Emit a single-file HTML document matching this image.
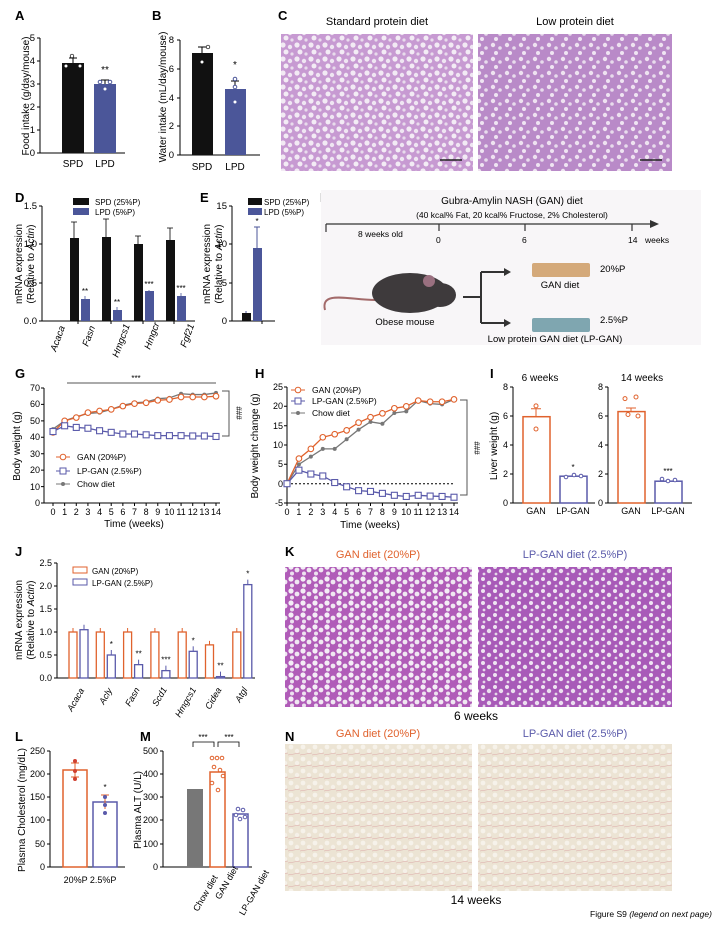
<!DOCTYPE html>
<html><head><meta charset="utf-8"><style>
body{margin:0;background:#fff}
svg{display:block;font-family:"Liberation Sans",Arial,sans-serif}
</style></head><body>
<svg width="712" height="926" viewBox="0 0 712 926" xmlns="http://www.w3.org/2000/svg">
<defs>
<pattern id="he" width="14" height="14" patternUnits="userSpaceOnUse">
<rect width="14" height="14" fill="#c79ad2"/>
<circle cx="3" cy="3" r="2.6" fill="#f2eaf4"/><circle cx="10" cy="5" r="2.2" fill="#efe6f2"/>
<circle cx="6" cy="10" r="2.5" fill="#f3ecf5"/><circle cx="12" cy="12" r="1.6" fill="#e8dcec"/>
</pattern>
<pattern id="he2" width="14" height="14" patternUnits="userSpaceOnUse">
<rect width="14" height="14" fill="#b98ac8"/>
<circle cx="3" cy="3" r="2.2" fill="#eee2f0"/><circle cx="10" cy="6" r="1.8" fill="#e8dcec"/>
<circle cx="6" cy="11" r="2" fill="#efe5f2"/>
</pattern>
<pattern id="hk" width="12" height="12" patternUnits="userSpaceOnUse">
<rect width="12" height="12" fill="#b05cb8"/>
<circle cx="3" cy="3" r="2.6" fill="#f4eef6"/><circle cx="9" cy="6" r="2.4" fill="#f0e8f2"/>
<circle cx="4" cy="9.5" r="2" fill="#ede2f0"/>
</pattern>
<pattern id="hk2" width="12" height="12" patternUnits="userSpaceOnUse">
<rect width="12" height="12" fill="#a85ab8"/>
<circle cx="3" cy="3" r="2" fill="#efe5f2"/><circle cx="9" cy="7" r="2.2" fill="#ebe0ef"/>
<circle cx="4" cy="10" r="1.4" fill="#e6d8ea"/>
</pattern>
<pattern id="hn" width="12" height="12" patternUnits="userSpaceOnUse">
<rect width="12" height="12" fill="#ece4d4"/>
<circle cx="3" cy="3" r="2.4" fill="#f6f2ea"/><circle cx="9" cy="7" r="2.2" fill="#f5f0e8"/>
<path d="M0 11 L12 9" stroke="#dca8a8" stroke-width="0.5"/>
</pattern>
</defs>
<g font-size="10" fill="#000">
<g font-weight="bold" font-size="13">
<text x="15" y="20">A</text><text x="152" y="20">B</text><text x="278" y="20">C</text>
<text x="15" y="202">D</text><text x="200" y="202">E</text><text x="320" y="202">F</text>
<text x="15" y="378">G</text><text x="255" y="378">H</text><text x="490" y="378">I</text>
<text x="15" y="556">J</text><text x="285" y="556">K</text>
<text x="15" y="741">L</text><text x="140" y="741">M</text><text x="285" y="741">N</text>
</g>

<!-- A -->
<g stroke="#000" stroke-width="1" fill="none">
<path d="M40 38V153H125"/>
<path d="M37 38H40M37 61H40M37 84H40M37 107H40M37 130H40M37 153H40"/>
</g>
<g font-size="9.5" text-anchor="end"><text x="35" y="41">5</text><text x="35" y="64">4</text><text x="35" y="87">3</text><text x="35" y="110">2</text><text x="35" y="133">1</text><text x="35" y="156">0</text></g>
<rect x="62" y="63" width="22" height="90" fill="#111"/>
<rect x="94" y="84" width="22" height="69" fill="#4b5699"/>
<path d="M73 63V58M69 58H77M105 84V80M101 80H109" stroke="#000"/>
<circle cx="72" cy="56" r="1.8" fill="#fff" stroke="#000" stroke-width=".7"/><circle cx="66" cy="66" r="1.5" fill="#fff"/><circle cx="80" cy="66" r="1.5" fill="#fff"/>
<circle cx="100" cy="82" r="1.8" fill="#fff" stroke="#4b5699"/><circle cx="110" cy="82" r="1.8" fill="#fff" stroke="#4b5699"/><circle cx="105" cy="89" r="1.5" fill="#fff"/>
<text x="105" y="73" text-anchor="middle" font-size="10">**</text>
<text x="73" y="167" text-anchor="middle">SPD</text><text x="105" y="167" text-anchor="middle">LPD</text>
<text transform="translate(29,96) rotate(-90)" text-anchor="middle" font-size="10">Food intake (g/day/mouse)</text>

<!-- B -->
<g stroke="#000" fill="none"><path d="M180 40V155H260"/><path d="M177 40H180M177 69H180M177 98H180M177 126H180M177 155H180"/></g>
<g font-size="9.5" text-anchor="end"><text x="174" y="43">8</text><text x="174" y="72">6</text><text x="174" y="101">4</text><text x="174" y="129">2</text><text x="174" y="158">0</text></g>
<rect x="192" y="53" width="21" height="102" fill="#111"/>
<rect x="225" y="89" width="21" height="66" fill="#4b5699"/>
<path d="M202 53V47M198 47H206M235 89V81M231 81H239" stroke="#000"/>
<circle cx="202" cy="62" r="1.5" fill="#fff"/><circle cx="208" cy="47" r="1.8" fill="#fff" stroke="#000" stroke-width=".7"/>
<circle cx="235" cy="79" r="1.8" fill="#fff" stroke="#4b5699"/><circle cx="235" cy="87" r="1.8" fill="#fff" stroke="#4b5699"/><circle cx="235" cy="102" r="1.5" fill="#fff"/>
<text x="235" y="68" text-anchor="middle">*</text>
<text x="202" y="170" text-anchor="middle">SPD</text><text x="235" y="170" text-anchor="middle">LPD</text>
<text transform="translate(166,97) rotate(-90)" text-anchor="middle">Water intake (mL/day/mouse)</text>

<!-- C -->
<text x="377" y="25" text-anchor="middle" font-size="11">Standard protein diet</text>
<text x="575" y="25" text-anchor="middle" font-size="11">Low protein diet</text>
<rect x="281" y="34" width="192" height="137" fill="url(#he)"/>
<rect x="478" y="34" width="194" height="137" fill="url(#he2)"/>
<path d="M440 160H462M640 160H662" stroke="#222" stroke-width="1.5"/>

<!-- D -->
<g stroke="#000" fill="none"><path d="M42 206V321H195"/><path d="M39 206H42M39 244H42M39 283H42M39 321H42"/>
<path d="M78 321v3M111 321v3M143 321v3M174 321v3"/></g>
<g font-size="9.5" text-anchor="end"><text x="37" y="209">1.5</text><text x="37" y="247">1.0</text><text x="37" y="286">0.5</text><text x="37" y="324">0.0</text></g>
<rect x="70" y="238" width="9" height="83" fill="#111"/><rect x="81" y="299" width="9" height="22" fill="#4b5699"/>
<rect x="102" y="237" width="9" height="84" fill="#111"/><rect x="113" y="310" width="9" height="11" fill="#4b5699"/>
<rect x="134" y="244" width="9" height="77" fill="#111"/><rect x="145" y="291" width="9" height="30" fill="#4b5699"/>
<rect x="166" y="240" width="9" height="81" fill="#111"/><rect x="177" y="296" width="9" height="25" fill="#4b5699"/>
<g stroke="#000" stroke-width=".8"><path d="M74 238V222M71 222H77M106 237V219M103 219H109M138 244V236M135 236H141M170 240V228M167 228H173"/></g>
<g stroke="#4b5699" stroke-width=".8"><path d="M85 299V296M117 310V307M149 291V290M181 296V293"/></g>
<g font-size="8" text-anchor="middle"><text x="85" y="294">**</text><text x="117" y="305">**</text><text x="149" y="287">***</text><text x="181" y="291">***</text></g>
<rect x="73" y="198" width="16" height="7" fill="#111"/><text x="95" y="205" font-size="8">SPD (25%P)</text>
<rect x="73" y="208" width="16" height="7" fill="#4b5699"/><text x="95" y="215" font-size="8">LPD (5%P)</text>
<text transform="translate(22,264) rotate(-90)" text-anchor="middle">mRNA expression</text>
<text transform="translate(34,264) rotate(-90)" text-anchor="middle">(Relative to <tspan font-style="italic">Actin</tspan>)</text>
<g font-style="italic" font-size="9.5">
<text transform="translate(56,352) rotate(-70)">Acaca</text><text transform="translate(88,347) rotate(-70)">Fasn</text>
<text transform="translate(118,358) rotate(-70)">Hmgcs1</text><text transform="translate(150,350) rotate(-70)">Hmgcr</text>
<text transform="translate(186,348) rotate(-70)">Fgf21</text></g>

<!-- E -->
<g stroke="#000" fill="none"><path d="M232 206V321H275"/><path d="M229 206H232M229 244H232M229 283H232M229 321H232M262 321v3"/></g>
<g font-size="9.5" text-anchor="end"><text x="227" y="209">15</text><text x="227" y="247">10</text><text x="227" y="286">5</text><text x="227" y="324">0</text></g>
<rect x="242" y="313" width="9" height="8" fill="#111"/><rect x="253" y="248" width="9" height="73" fill="#4b5699"/>
<path d="M246 313V311M257 248V227M254 227H260" stroke="#4b5699"/>
<text x="257" y="224" text-anchor="middle" font-size="8">*</text>
<rect x="248" y="198" width="14" height="7" fill="#111"/><text x="264" y="205" font-size="8">SPD (25%P)</text>
<rect x="248" y="208" width="14" height="7" fill="#4b5699"/><text x="264" y="215" font-size="8">LPD (5%P)</text>
<text transform="translate(210,264) rotate(-90)" text-anchor="middle">mRNA expression</text>
<text transform="translate(222,264) rotate(-90)" text-anchor="middle">(Relative to <tspan font-style="italic">Actin</tspan>)</text>

<!-- F -->
<rect x="321" y="190" width="380" height="155" fill="#f8f6f8"/>
<text x="512" y="204" text-anchor="middle" font-size="10">Gubra-Amylin NASH (GAN) diet</text>
<text x="512" y="218" text-anchor="middle" font-size="8.5">(40 kcal% Fat, 20 kcal% Fructose, 2% Cholesterol)</text>
<path d="M326 224H652M326 224v8M439 224v7M525 224v7M632 224v7" stroke="#333" stroke-width="1.2" fill="none"/>
<path d="M650 220L659 224L650 228Z" fill="#333"/>
<g font-size="8.5"><text x="358" y="237">8 weeks old</text><text x="436" y="243">0</text><text x="522" y="243">6</text><text x="628" y="243">14</text><text x="645" y="243">weeks</text></g>
<path d="M325 310 C320 290 350 300 375 300" stroke="#a36a6a" stroke-width="2" fill="none"/>
<ellipse cx="410" cy="293" rx="38" ry="20" fill="#3e3a3c"/>
<ellipse cx="440" cy="295" rx="16" ry="12" fill="#3e3a3c"/>
<circle cx="429" cy="281" r="6" fill="#9a7080"/>
<text x="405" y="325" text-anchor="middle" font-size="9.5">Obese mouse</text>
<path d="M463 297H481M481 272V323M481 272H505M481 323H505" stroke="#333" stroke-width="2" fill="none"/>
<path d="M504 268L511 272L504 276ZM504 319L511 323L504 327Z" fill="#333"/>
<rect x="532" y="263" width="58" height="14" rx="2" fill="#d4a97a"/>
<rect x="532" y="318" width="58" height="14" rx="2" fill="#7fa6b0"/>
<text x="600" y="272" font-size="9.5">20%P</text><text x="560" y="288" text-anchor="middle" font-size="9.5">GAN diet</text>
<text x="600" y="323" font-size="9.5">2.5%P</text><text x="555" y="342" text-anchor="middle" font-size="9.5">Low protein GAN diet (LP-GAN)</text>

<!-- G -->
<text x="136" y="381" text-anchor="middle" font-size="8">***</text>
<path d="M67 383H216" stroke="#555"/>
<g stroke="#000" fill="none"><path d="M44 388V503H220"/></g>
<g font-size="9" text-anchor="end">
<text x="40" y="391">70</text><text x="40" y="407">60</text><text x="40" y="424">50</text><text x="40" y="440">40</text><text x="40" y="457">30</text><text x="40" y="473">20</text><text x="40" y="490">10</text><text x="40" y="506">0</text></g>
<g stroke="#000"><path d="M41 388h3M41 404.4h3M41 420.9h3M41 437.3h3M41 453.7h3M41 470.1h3M41 486.6h3M41 503h3"/></g>
<g font-size="9" text-anchor="middle" id="gx"></g>
<text x="134" y="527" text-anchor="middle">Time (weeks)</text>
<text transform="translate(20,446) rotate(-90)" text-anchor="middle">Body weight (g)</text>
<path d="M222 391H229V436H222" stroke="#555" fill="none"/>
<text transform="translate(236,413) rotate(90)" text-anchor="middle" font-size="8">###</text>
<g id="gplot"></g>
<g font-size="8.5">
<path d="M56 457H70" stroke="#e0622d"/><circle cx="63" cy="457" r="2.8" fill="#fff" stroke="#e0622d"/><text x="77" y="460">GAN (20%P)</text>
<path d="M56 471H70" stroke="#5a5aaa"/><rect x="60" y="468" width="6" height="6" fill="#fff" stroke="#5a5aaa"/><text x="77" y="474">LP-GAN (2.5%P)</text>
<path d="M56 484H70" stroke="#777"/><circle cx="63" cy="484" r="2" fill="#777"/><text x="77" y="487">Chow diet</text></g>

<!-- H -->
<g stroke="#000" fill="none"><path d="M287 387V503H458"/></g>
<g font-size="9" text-anchor="end">
<text x="283" y="390">25</text><text x="283" y="409">20</text><text x="283" y="429">15</text><text x="283" y="448">10</text><text x="283" y="467">5</text><text x="283" y="487">0</text><text x="283" y="506">-5</text></g>
<g stroke="#000"><path d="M284 387h3M284 406.3h3M284 425.7h3M284 445h3M284 464.3h3M284 483.7h3M284 503h3"/></g>
<path d="M287 483.7H455" stroke="#000" stroke-dasharray="2,2"/>
<text x="370" y="528" text-anchor="middle">Time (weeks)</text>
<text transform="translate(258,446) rotate(-90)" text-anchor="middle">Body weight change (g)</text>
<path d="M460 400H467V495H460" stroke="#555" fill="none"/>
<text transform="translate(474,448) rotate(90)" text-anchor="middle" font-size="8">###</text>
<g id="hplot"></g>
<g font-size="8.5">
<path d="M291 390H305" stroke="#e0622d"/><circle cx="298" cy="390" r="2.8" fill="#fff" stroke="#e0622d"/><text x="312" y="393">GAN (20%P)</text>
<path d="M291 401H305" stroke="#5a5aaa"/><rect x="295" y="398" width="6" height="6" fill="#fff" stroke="#5a5aaa"/><text x="312" y="404">LP-GAN (2.5%P)</text>
<path d="M291 413H305" stroke="#777"/><circle cx="298" cy="413" r="2" fill="#777"/><text x="312" y="416">Chow diet</text></g>

<!-- I -->
<text x="540" y="381" text-anchor="middle">6 weeks</text><text x="642" y="381" text-anchor="middle">14 weeks</text>
<g stroke="#000" fill="none"><path d="M513 387V503H595M608 387V503H692"/>
<path d="M510 387h3M510 416h3M510 445h3M510 474h3M510 503h3M605 387h3M605 416h3M605 445h3M605 474h3M605 503h3"/></g>
<g font-size="9" text-anchor="end"><text x="508" y="390">8</text><text x="508" y="419">6</text><text x="508" y="448">4</text><text x="508" y="477">2</text><text x="508" y="506">0</text>
<text x="603" y="390">8</text><text x="603" y="419">6</text><text x="603" y="448">4</text><text x="603" y="477">2</text><text x="603" y="506">0</text></g>
<rect x="523" y="416.7" width="27" height="86.3" fill="#fff" stroke="#e0622d" stroke-width="1.5"/>
<rect x="560" y="476.2" width="27" height="26.8" fill="#fff" stroke="#5a5aaa" stroke-width="1.5"/>
<rect x="618" y="411.6" width="27" height="91.4" fill="#fff" stroke="#e0622d" stroke-width="1.5"/>
<rect x="655" y="481.2" width="27" height="21.8" fill="#fff" stroke="#5a5aaa" stroke-width="1.5"/>
<path d="M536 416.7V408.8M531 408.8H541M631 411.6V408M626 408H636" stroke="#e0622d"/>
<circle cx="536" cy="405.9" r="2" fill="#fff" stroke="#e0622d"/><circle cx="536" cy="429" r="2" fill="#fff" stroke="#e0622d"/>
<circle cx="625" cy="398.6" r="2" fill="#fff" stroke="#e0622d"/><circle cx="636" cy="397" r="2" fill="#fff" stroke="#e0622d"/><circle cx="628" cy="414.5" r="2" fill="#fff" stroke="#e0622d"/><circle cx="638" cy="416" r="2" fill="#fff" stroke="#e0622d"/>
<circle cx="566" cy="477" r="1.8" fill="#fff" stroke="#5a5aaa"/><circle cx="574" cy="475" r="1.8" fill="#fff" stroke="#5a5aaa"/><circle cx="581" cy="476" r="1.8" fill="#fff" stroke="#5a5aaa"/>
<circle cx="662" cy="479" r="1.8" fill="#fff" stroke="#5a5aaa"/><circle cx="668" cy="481" r="1.8" fill="#fff" stroke="#5a5aaa"/><circle cx="675" cy="480" r="1.8" fill="#fff" stroke="#5a5aaa"/>
<text x="573" y="470" text-anchor="middle" font-size="8">*</text><text x="668" y="474" text-anchor="middle" font-size="8">***</text>
<text x="536" y="514" text-anchor="middle" font-size="9">GAN</text><text x="573" y="514" text-anchor="middle" font-size="9">LP-GAN</text>
<text x="631" y="514" text-anchor="middle" font-size="9">GAN</text><text x="668" y="514" text-anchor="middle" font-size="9">LP-GAN</text>
<text transform="translate(497,446) rotate(-90)" text-anchor="middle">Liver weight (g)</text>

<!-- J -->
<g stroke="#000" fill="none"><path d="M57 563V678H255"/>
<path d="M54 563h3M54 586h3M54 609h3M54 632h3M54 655h3M54 678h3"/></g>
<g font-size="9" text-anchor="end"><text x="52" y="566">2.5</text><text x="52" y="589">2.0</text><text x="52" y="612">1.5</text><text x="52" y="635">1.0</text><text x="52" y="658">0.5</text><text x="52" y="681">0.0</text></g>
<g id="jplot"></g>
<rect x="73" y="567" width="14" height="6" fill="#fff" stroke="#e0622d"/><text x="92" y="574" font-size="8">GAN (20%P)</text>
<rect x="73" y="579" width="14" height="6" fill="#fff" stroke="#5a5aaa"/><text x="92" y="586" font-size="8">LP-GAN (2.5%P)</text>
<text transform="translate(22,620) rotate(-90)" text-anchor="middle">mRNA expression</text>
<text transform="translate(34,620) rotate(-90)" text-anchor="middle">(Relative to <tspan font-style="italic">Actin</tspan>)</text>
<g font-style="italic" font-size="9">
<text transform="translate(72,712) rotate(-60)">Acaca</text><text transform="translate(104,705) rotate(-60)">Acly</text>
<text transform="translate(130,707) rotate(-60)">Fasn</text><text transform="translate(157,707) rotate(-60)">Scd1</text>
<text transform="translate(180,718) rotate(-60)">Hmgcs1</text><text transform="translate(210,710) rotate(-60)">Cidea</text>
<text transform="translate(240,703) rotate(-60)">Atgl</text></g>

<!-- K -->
<text x="378" y="558" text-anchor="middle" font-size="11" fill="#e0622d">GAN diet (20%P)</text>
<text x="575" y="558" text-anchor="middle" font-size="11" fill="#5a5aaa">LP-GAN diet (2.5%P)</text>
<rect x="285" y="567" width="187" height="140" fill="url(#hk)"/>
<rect x="478" y="567" width="194" height="140" fill="url(#hk2)"/>
<text x="476" y="720" text-anchor="middle" font-size="12">6 weeks</text>

<!-- L -->
<g stroke="#000" fill="none"><path d="M50 751V867H125"/>
<path d="M47 751h3M47 774h3M47 797h3M47 820h3M47 844h3M47 867h3"/></g>
<g font-size="9" text-anchor="end"><text x="45" y="754">250</text><text x="45" y="777">200</text><text x="45" y="800">150</text><text x="45" y="823">100</text><text x="45" y="847">50</text><text x="45" y="870">0</text></g>
<rect x="63" y="770" width="24" height="97" fill="#fff" stroke="#e0622d" stroke-width="1.5"/>
<rect x="93" y="802" width="24" height="65" fill="#fff" stroke="#5a5aaa" stroke-width="1.5"/>
<path d="M75 763V777M71 763H79M71 777H79M105 795V809M101 795H109" stroke="#e0622d"/>
<circle cx="75" cy="761" r="2" fill="#d04030"/><circle cx="75" cy="771" r="2" fill="#d04030"/><circle cx="75" cy="779" r="2" fill="#d04030"/>
<circle cx="105" cy="797" r="2" fill="#5a5aaa"/><circle cx="105" cy="805" r="2" fill="#5a5aaa"/><circle cx="105" cy="813" r="2" fill="#5a5aaa"/>
<text x="105" y="790" text-anchor="middle" font-size="8">*</text>
<text x="90" y="883" text-anchor="middle" font-size="9">20%P 2.5%P</text>
<text transform="translate(25,810) rotate(-90)" text-anchor="middle">Plasma Cholesterol (mg/dL)</text>

<!-- M -->
<g stroke="#000" fill="none"><path d="M163 751V867H252"/>
<path d="M160 751h3M160 774h3M160 797h3M160 820h3M160 844h3M160 867h3"/></g>
<g font-size="9" text-anchor="end"><text x="158" y="754">500</text><text x="158" y="777">400</text><text x="158" y="800">300</text><text x="158" y="823">200</text><text x="158" y="847">100</text><text x="158" y="870">0</text></g>
<rect x="187" y="789" width="16" height="78" fill="#777"/>
<rect x="210" y="772" width="15" height="95" fill="#fff" stroke="#e0622d" stroke-width="1.5"/>
<rect x="233" y="814" width="15" height="53" fill="#fff" stroke="#5a5aaa" stroke-width="1.5"/>
<g fill="#fff" stroke="#e0622d"><circle cx="212" cy="758" r="1.8"/><circle cx="217" cy="758" r="1.8"/><circle cx="222" cy="758" r="1.8"/><circle cx="214" cy="767" r="1.8"/><circle cx="220" cy="770" r="1.8"/><circle cx="223" cy="776" r="1.8"/><circle cx="212" cy="783" r="1.8"/><circle cx="218" cy="790" r="1.8"/></g>
<g fill="#fff" stroke="#5a5aaa"><circle cx="238" cy="809" r="1.8"/><circle cx="243" cy="810" r="1.8"/><circle cx="236" cy="815" r="1.8"/><circle cx="245" cy="817" r="1.8"/><circle cx="240" cy="819" r="1.8"/></g>
<path d="M193 747V742H214V747M218 747V742H239V747" stroke="#000" fill="none" stroke-width=".8"/>
<text x="203" y="740" text-anchor="middle" font-size="8">***</text><text x="229" y="740" text-anchor="middle" font-size="8">***</text>
<g font-size="9"><text transform="translate(198,912) rotate(-60)">Chow diet</text><text transform="translate(220,900) rotate(-60)">GAN diet</text><text transform="translate(244,916) rotate(-60)">LP-GAN diet</text></g>
<text transform="translate(141,810) rotate(-90)" text-anchor="middle">Plasma ALT (U/L)</text>

<!-- N -->
<text x="378" y="737" text-anchor="middle" font-size="11" fill="#e0622d">GAN diet (20%P)</text>
<text x="575" y="737" text-anchor="middle" font-size="11" fill="#5a5aaa">LP-GAN diet (2.5%P)</text>
<rect x="285" y="744" width="187" height="147" fill="url(#hn)"/>
<rect x="478" y="744" width="194" height="147" fill="url(#hn)"/>
<text x="476" y="904" text-anchor="middle" font-size="12">14 weeks</text>
<text x="590" y="917" font-size="8.5">Figure S9 <tspan font-style="italic">(legend on next page)</tspan></text>
</g>
<script>
var ns="http://www.w3.org/2000/svg";
function el(p,t,a){var e=document.createElementNS(ns,t);for(var k in a)e.setAttribute(k,a[k]);p.appendChild(e);return e;}
function plot(g,x0,dx,y0,sc,data,col,type){
 var pts=data.map(function(v,i){return [x0+i*dx,y0-v*sc];});
 el(g,"polyline",{points:pts.map(function(p){return p.join(",")}).join(" "),fill:"none",stroke:col,"stroke-width":1.3});
 pts.forEach(function(p){
  if(type=="c")el(g,"circle",{cx:p[0],cy:p[1],r:2.8,fill:"#fff",stroke:col,"stroke-width":1.1});
  else if(type=="s")el(g,"rect",{x:p[0]-3,y:p[1]-3,width:6,height:6,fill:"#fff",stroke:col,"stroke-width":1.1});
  else el(g,"circle",{cx:p[0],cy:p[1],r:2,fill:col});
 });
}
var G=document.getElementById("gplot");
var gx0=53,gdx=163/14,gy0=503,gs=115/70;
plot(G,gx0,gdx,gy0,gs,[45,50,52.5,54.5,55,57,59.5,61,61.5,63.5,64,66.5,66,66,67],"#777","d");
plot(G,gx0,gdx,gy0,gs,[43,50,52,55,56,57,59,60.5,61,62.5,63,64.5,64.5,64.5,65],"#e0622d","c");
plot(G,gx0,gdx,gy0,gs,[43.5,47,46,45.5,44,43,42,42,41.5,41,41,41,40.8,40.8,40.5],"#5a5aaa","s");
var gx=document.getElementById("gx");
for(var i=0;i<=14;i++){el(gx,"line",{x1:gx0+i*gdx,x2:gx0+i*gdx,y1:503,y2:506,stroke:"#000"});var t=el(gx,"text",{x:gx0+i*gdx,y:515});t.textContent=i;}
var H=document.getElementById("hplot");
var hx0=287,hdx=167/14,hy0=483.7,hs=116/30;
plot(H,hx0,hdx,hy0,hs,[0,5,7,9,9,11.5,14,16,15.5,18.3,18.7,21.5,20.7,20.5,21.8],"#777","d");
plot(H,hx0,hdx,hy0,hs,[0,6.5,9,12,12.8,13.8,15.8,17.2,18.2,19.5,20,21.5,21.2,21.2,21.8],"#e0622d","c");
plot(H,hx0,hdx,hy0,hs,[0,3.5,2.5,2,0.3,-0.8,-1.8,-2,-2.5,-3,-3.3,-3,-3.2,-3.3,-3.5],"#5a5aaa","s");
for(var i=0;i<=14;i++){el(H,"line",{x1:hx0+i*hdx,x2:hx0+i*hdx,y1:503,y2:506,stroke:"#000"});var t=el(H,"text",{x:hx0+i*hdx,y:515,"font-size":9,"text-anchor":"middle"});t.textContent=i;}
var J=document.getElementById("jplot");
var a=[1,1,1,1,1,0.72,1],b=[1.05,0.5,0.29,0.16,0.58,0.03,2.03],st=["","*","**","***","*","**","*"];
for(var i=0;i<7;i++){var x=69+i*27.3;
 el(J,"rect",{x:x,y:678-a[i]*46,width:8,height:a[i]*46,fill:"#fff",stroke:"#e0622d","stroke-width":1.3});
 el(J,"rect",{x:x+11,y:678-b[i]*46,width:8,height:b[i]*46,fill:"#fff",stroke:"#5a5aaa","stroke-width":1.3});
 el(J,"line",{x1:x+4,x2:x+4,y1:678-a[i]*46,y2:678-a[i]*46-4,stroke:"#e0622d"});
 el(J,"line",{x1:x+15,x2:x+15,y1:678-b[i]*46,y2:678-b[i]*46-5,stroke:"#5a5aaa"});
 if(st[i]){var t=el(J,"text",{x:x+15,y:678-b[i]*46-8,"font-size":8,"text-anchor":"middle"});t.textContent=st[i];}
}
</script>
</svg>
</body></html>
